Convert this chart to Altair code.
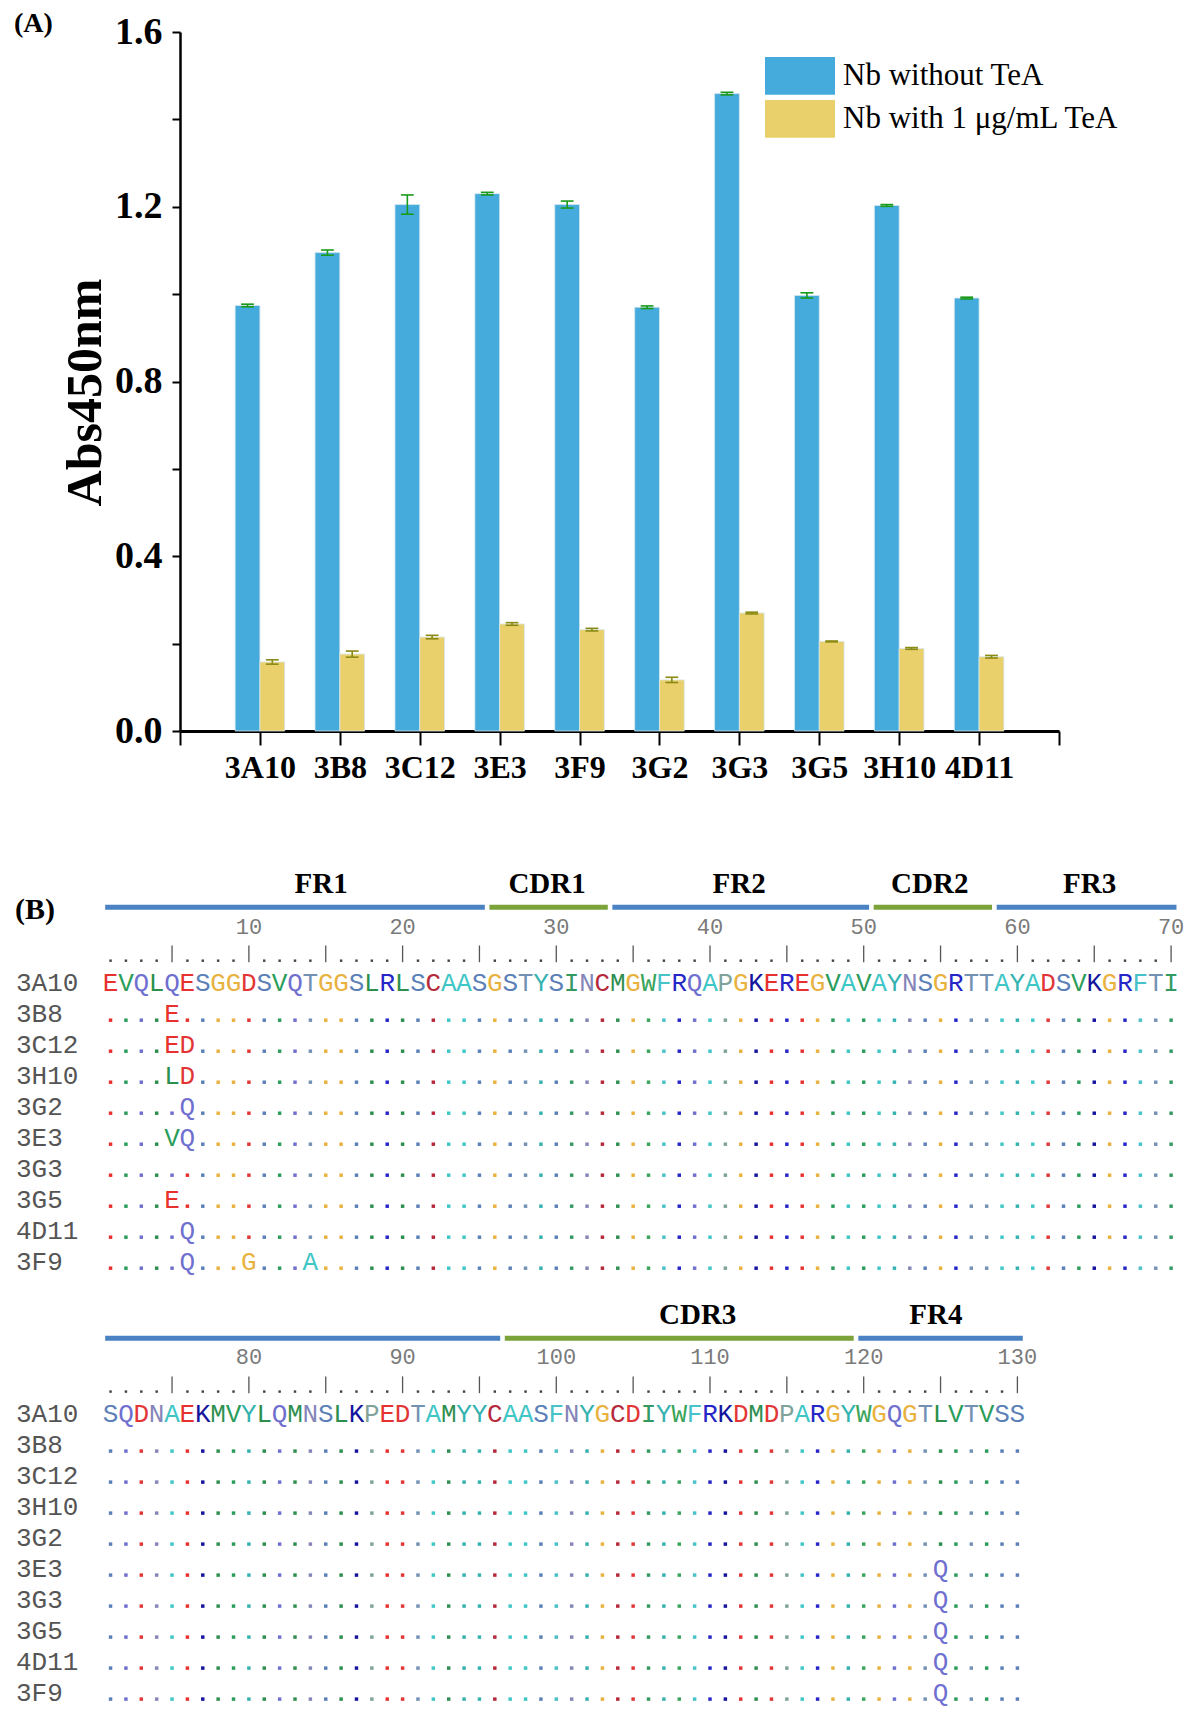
import altair as alt
import pandas as pd

# ---------------- Panel A data ----------------
CATEGORIES = ["3A10", "3B8", "3C12", "3E3", "3F9", "3G2", "3G3", "3G5", "3H10", "4D11"]
NB_WITHOUT = [0.974, 1.095, 1.205, 1.230, 1.205, 0.970, 1.459, 0.997, 1.203, 0.991]
NB_WITHOUT_ERR = [0.003, 0.006, 0.022, 0.003, 0.008, 0.003, 0.003, 0.006, 0.002, 0.002]
NB_WITH = [0.158, 0.176, 0.215, 0.245, 0.232, 0.117, 0.270, 0.205, 0.189, 0.170]
NB_WITH_ERR = [0.005, 0.007, 0.004, 0.003, 0.003, 0.006, 0.002, 0.001, 0.002, 0.003]
SERIES = ["Nb without TeA", "Nb with 1 μg/mL TeA"]
SERIES_COLORS = ["#45ABDD", "#E9D06B"]
ERR_COLORS = ["#1a9a1a", "#8a8a12"]
Y_TICKS = [0.0, 0.2, 0.4, 0.6, 0.8, 1.0, 1.2, 1.4, 1.6]

# ---------------- Panel B data ----------------
REFERENCE_STRAIN = "3A10"
REFERENCE_SEQ = ("EVQLQESGGDSVQTGGSLRLSCAASGSTYSINCMGWFRQAPGKEREGVAVAYNSGRTTAYADSVKGRFTI"
                 "SQDNAEKMVYLQMNSLKPEDTAMYYCAASFNYGCDIYWFRKDMDPARGYWGQGTLVTVSS")
ROW_ORDER = ["3A10", "3B8", "3C12", "3H10", "3G2", "3E3", "3G3", "3G5", "4D11", "3F9"]
MUT_STRAIN = ["3B8", "3C12", "3C12", "3H10", "3H10", "3G2", "3E3", "3E3", "3E3",
              "3G3", "3G5", "3G5", "4D11", "4D11", "3F9", "3F9", "3F9", "3F9"]
MUT_POS = [5, 5, 6, 5, 6, 6, 5, 6, 125, 125, 5, 125, 6, 125, 6, 10, 14, 125]
MUT_AA = ["E", "E", "D", "L", "D", "Q", "V", "Q", "Q", "Q", "E", "Q", "Q", "Q", "Q", "G", "A", "Q"]
REGION_NAMES = ["FR1", "CDR1", "FR2", "CDR2", "FR3", "CDR3", "FR4"]
REGION_START = [1, 26, 34, 51, 59, 97, 120]
REGION_END = [25, 33, 50, 58, 96, 119, 130]
REGION_LABEL_AT = [14.7, 29.4, 41.9, 54.3, 64.7, 109.2, 124.7]
BLOCK_START = [1, 71]
BLOCK_LEN = 70
PANEL_TAGS = ["(A)", "(B)"]
AA_COLORS = {
    "E": "#E8312F", "D": "#E23535", "C": "#B5293A",
    "V": "#2A9D5A", "L": "#2C8F4E", "I": "#359A62", "M": "#2F8F50", "W": "#3AA55A",
    "Q": "#6F6FCF", "S": "#5B80B8", "T": "#7392B3", "N": "#8585B8",
    "G": "#E9B13E", "R": "#2626C8", "K": "#14149C", "H": "#3333AA",
    "A": "#3FC6C6", "F": "#47C2C9", "Y": "#34B2B0", "P": "#7FA39B",
}
REGION_COLORS = {"FR": "#4A82C3", "CDR": "#7BA33A"}

SERIF = "Liberation Serif"
MONO = "Liberation Mono"

# layout: plot-area origin sits at page (180, 8 + TOP)
TOP = 24
PLOT_H = 699
SHIFT = TOP - 17  # vertical shift of the plot origin relative to the reference frame

# ---------------- Panel A ----------------
BAR_W = 0.31
rows = []
for s, (vals, errs) in enumerate([(NB_WITHOUT, NB_WITHOUT_ERR), (NB_WITH, NB_WITH_ERR)]):
    for i, cat in enumerate(CATEGORIES):
        rows.append(dict(cat=cat, idx=i + 1, sidx=s, series=SERIES[s], value=vals[i], err=errs[i]))
bars_df = pd.DataFrame(rows)

n = len(CATEGORIES)
names_js = "[" + ",".join("'" + c + "'" for c in CATEGORIES) + "]"
x_scale_A = alt.Scale(domain=[0, n + 1], nice=False, zero=False)
y_scale_A = alt.Scale(domain=[0, 1.6], nice=False, zero=True)
x_axis_A = alt.Axis(
    values=[k / 2 for k in range(2 * (n + 1) + 1)],
    labelExpr=f"(datum.value % 1 == 0 && datum.value >= 1 && datum.value <= {n}) ? {names_js}[datum.value - 1] : ''",
    labelFont=SERIF, labelFontWeight="bold", labelFontSize=32, labelColor="black",
    labelPadding=7, labelOverlap=False, labelFlush=False,
    tickSize=14, tickWidth=2, tickColor="black", domainColor="black", domainWidth=3, grid=False,
)
y_axis_A = alt.Axis(
    values=Y_TICKS,
    labelExpr="round(datum.value * 10) % 4 == 0 ? format(datum.value, '.1f') : ''",
    labelFont=SERIF, labelFontWeight="bold", labelFontSize=38, labelColor="black",
    labelPadding=10, labelOverlap=False,
    tickSize=8, tickWidth=2, tickColor="black", domainColor="black", domainWidth=2.5, grid=False,
    titleFont=SERIF, titleFontWeight="bold", titleFontSize=50, titleColor="black",
    titlePadding=4, titleY=360,
)

baseA = alt.Chart(bars_df).transform_calculate(
    x0=f"datum.idx - {BAR_W} + {BAR_W} * datum.sidx",
    x1=f"datum.idx + {BAR_W} * datum.sidx",
    xc=f"datum.idx - {BAR_W} / 2 + {BAR_W} * datum.sidx",
    lo="datum.value - datum.err",
    hi="datum.value + datum.err",
    base="0",
)

bars = baseA.mark_bar(stroke="#d6e6ee", strokeWidth=0.8).encode(
    x=alt.X("x0:Q", scale=x_scale_A, axis=x_axis_A, title=None),
    x2="x1:Q",
    y=alt.Y("value:Q", scale=y_scale_A, axis=y_axis_A, title="Abs450nm"),
    y2="base:Q",
    color=alt.Color(
        "series:N",
        scale=alt.Scale(domain=SERIES, range=SERIES_COLORS),
        legend=alt.Legend(
            title=None, orient="none", legendX=602.5, legendY=26.4,
            symbolType="M-2,-1.08H2V1.08H-2Z", symbolSize=1225,
            symbolStrokeWidth=0, symbolOpacity=1,
            labelFont=SERIF, labelFontSize=31, labelColor="black",
            labelOffset=25.5, rowPadding=4, padding=0, labelLimit=500,
        ),
    ),
)

err_color = alt.condition(alt.datum.series == SERIES[0], alt.value(ERR_COLORS[0]), alt.value(ERR_COLORS[1]))
err = baseA.mark_rule(strokeWidth=1.6).encode(
    x=alt.X("xc:Q", scale=x_scale_A, title=None),
    y=alt.Y("lo:Q", scale=y_scale_A, title="Abs450nm"),
    y2="hi:Q",
    color=err_color,
)
caps = baseA.transform_fold(["lo", "hi"], as_=["kind", "yv"]).transform_calculate(
    c0="datum.xc - 0.08", c1="datum.xc + 0.08"
).mark_rule(strokeWidth=1.6).encode(
    x=alt.X("c0:Q", scale=x_scale_A, title=None),
    x2="c1:Q",
    y=alt.Y("yv:Q", scale=y_scale_A, title="Abs450nm"),
    color=err_color,
)
panelA = alt.layer(bars, err, caps)

# ---------------- Panel B ----------------
BLOCK_GAP = 13.9
HDR_LABEL, HDR_BAR, HDR_NUM = -3.18, -2.44, -1.82
RULER_TOP, RULER_BOT, RULER_DOT = -1.21, -0.67, -0.72

mut = {(s, p): a for s, p, a in zip(MUT_STRAIN, MUT_POS, MUT_AA)}
letters, dots, labels, ruler_bars, ruler_dots, numbers, regions = [], [], [], [], [], [], []
L = len(REFERENCE_SEQ)
for b, start in enumerate(BLOCK_START):
    end = min(start + BLOCK_LEN - 1, L)
    off = b * BLOCK_GAP
    for r, strain in enumerate(ROW_ORDER):
        u = off + r
        labels.append(dict(name=strain, u=u))
        for pos in range(start, end + 1):
            ref = REFERENCE_SEQ[pos - 1]
            col = pos - start + 1
            if strain == REFERENCE_STRAIN:
                letters.append(dict(col=col, u=u, aa=ref, color=AA_COLORS[ref]))
            elif (strain, pos) in mut:
                aa = mut[(strain, pos)]
                letters.append(dict(col=col, u=u, aa=aa, color=AA_COLORS[aa]))
            else:
                dots.append(dict(col=col, u=u + 0.2, color=AA_COLORS[ref]))
    for pos in range(start, end + 1):
        col = pos - start + 1
        if pos % 5 == 0:
            ruler_bars.append(dict(col=col, y0=off + RULER_TOP, y1=off + RULER_BOT))
        else:
            ruler_dots.append(dict(col=col, u=off + RULER_DOT))
        if pos % 10 == 0:
            numbers.append(dict(col=col, u=off + HDR_NUM, t=str(pos)))
    for name, rs, re_, lab in zip(REGION_NAMES, REGION_START, REGION_END, REGION_LABEL_AT):
        s0, e0 = max(rs, start), min(re_, end)
        if s0 > e0:
            continue
        kind = "CDR" if name.startswith("CDR") else "FR"
        regions.append(dict(x0=s0 - start + 1 - 0.35, x1=e0 - start + 1 + 0.35, u=off + HDR_BAR,
                            color=REGION_COLORS[kind],
                            name=name if start <= lab <= end + 0.5 else "",
                            lx=lab - start + 1, lu=off + HDR_LABEL))

x_scale_B = alt.Scale(domain=[1, 70], range=[-69.44, 991.1], nice=False, zero=False)
y_scale_B = alt.Scale(domain=[0, 20], range=[958 - SHIFT, 1578 - SHIFT], nice=False, zero=False)


def XB(f):
    return alt.X(f, scale=x_scale_B, axis=None)


def YB(f):
    return alt.Y(f, scale=y_scale_B, axis=None)


letters_l = alt.Chart(pd.DataFrame(letters)).mark_text(
    font=MONO, fontSize=26, baseline="middle", align="center"
).encode(x=XB("col:Q"), y=YB("u:Q"), text="aa:N", color=alt.Color("color:N", scale=None))

dots_l = alt.Chart(pd.DataFrame(dots)).mark_square(size=12, opacity=1).encode(
    x=XB("col:Q"), y=YB("u:Q"), color=alt.Color("color:N", scale=None)
)

labels_l = alt.Chart(pd.DataFrame(labels)).mark_text(
    font=MONO, fontSize=26, baseline="middle", align="left", color="#555555"
).encode(x=alt.value(-164), y=YB("u:Q"), text="name:N")

rbars_l = alt.Chart(pd.DataFrame(ruler_bars)).mark_rule(color="#555555", strokeWidth=1.3).encode(
    x=XB("col:Q"), y=YB("y0:Q"), y2="y1:Q"
)
rdots_l = alt.Chart(pd.DataFrame(ruler_dots)).mark_square(size=6, color="#444444", opacity=1).encode(
    x=XB("col:Q"), y=YB("u:Q")
)
nums_l = alt.Chart(pd.DataFrame(numbers)).mark_text(
    font=MONO, fontSize=22, baseline="middle", align="center", color="#7a7a7a"
).encode(x=XB("col:Q"), y=YB("u:Q"), text="t:N")

reg_df = pd.DataFrame(regions)
reg_bars_l = alt.Chart(reg_df).mark_rule(strokeWidth=5).encode(
    x=XB("x0:Q"), x2="x1:Q", y=YB("u:Q"), color=alt.Color("color:N", scale=None)
)
reg_labels_l = alt.Chart(reg_df).transform_filter("datum.name != ''").mark_text(
    font=SERIF, fontWeight="bold", fontSize=29, baseline="middle", align="center", color="black"
).encode(x=XB("lx:Q"), y=YB("lu:Q"), text="name:N")

tags_df = pd.DataFrame({"tag": PANEL_TAGS})
tagA = alt.Chart(tags_df).transform_filter(alt.datum.tag == PANEL_TAGS[0]).mark_text(
    font=SERIF, fontWeight="bold", fontSize=28, align="left", baseline="middle", color="black"
).encode(text="tag:N", x=alt.value(-166), y=alt.value(-8))
tagB = alt.Chart(tags_df).transform_filter(alt.datum.tag == PANEL_TAGS[1]).mark_text(
    font=SERIF, fontWeight="bold", fontSize=30, align="left", baseline="middle", color="black"
).encode(text="tag:N", x=alt.value(-165), y=alt.value(885 - SHIFT))

panelB = alt.layer(reg_bars_l, reg_labels_l, nums_l, rbars_l, rdots_l, dots_l, letters_l, labels_l)

chart = alt.layer(panelA, panelB, tagA, tagB).resolve_scale(
    x="independent", y="independent"
).properties(
    width=879, height=PLOT_H,
    autosize=alt.AutoSizeParams(type="none"),
    padding={"left": 172, "top": TOP, "right": 127, "bottom": 1718 - TOP - PLOT_H},
).configure_view(strokeWidth=0)

chart.save("out.html", embed_options={"renderer": "svg", "actions": False})
